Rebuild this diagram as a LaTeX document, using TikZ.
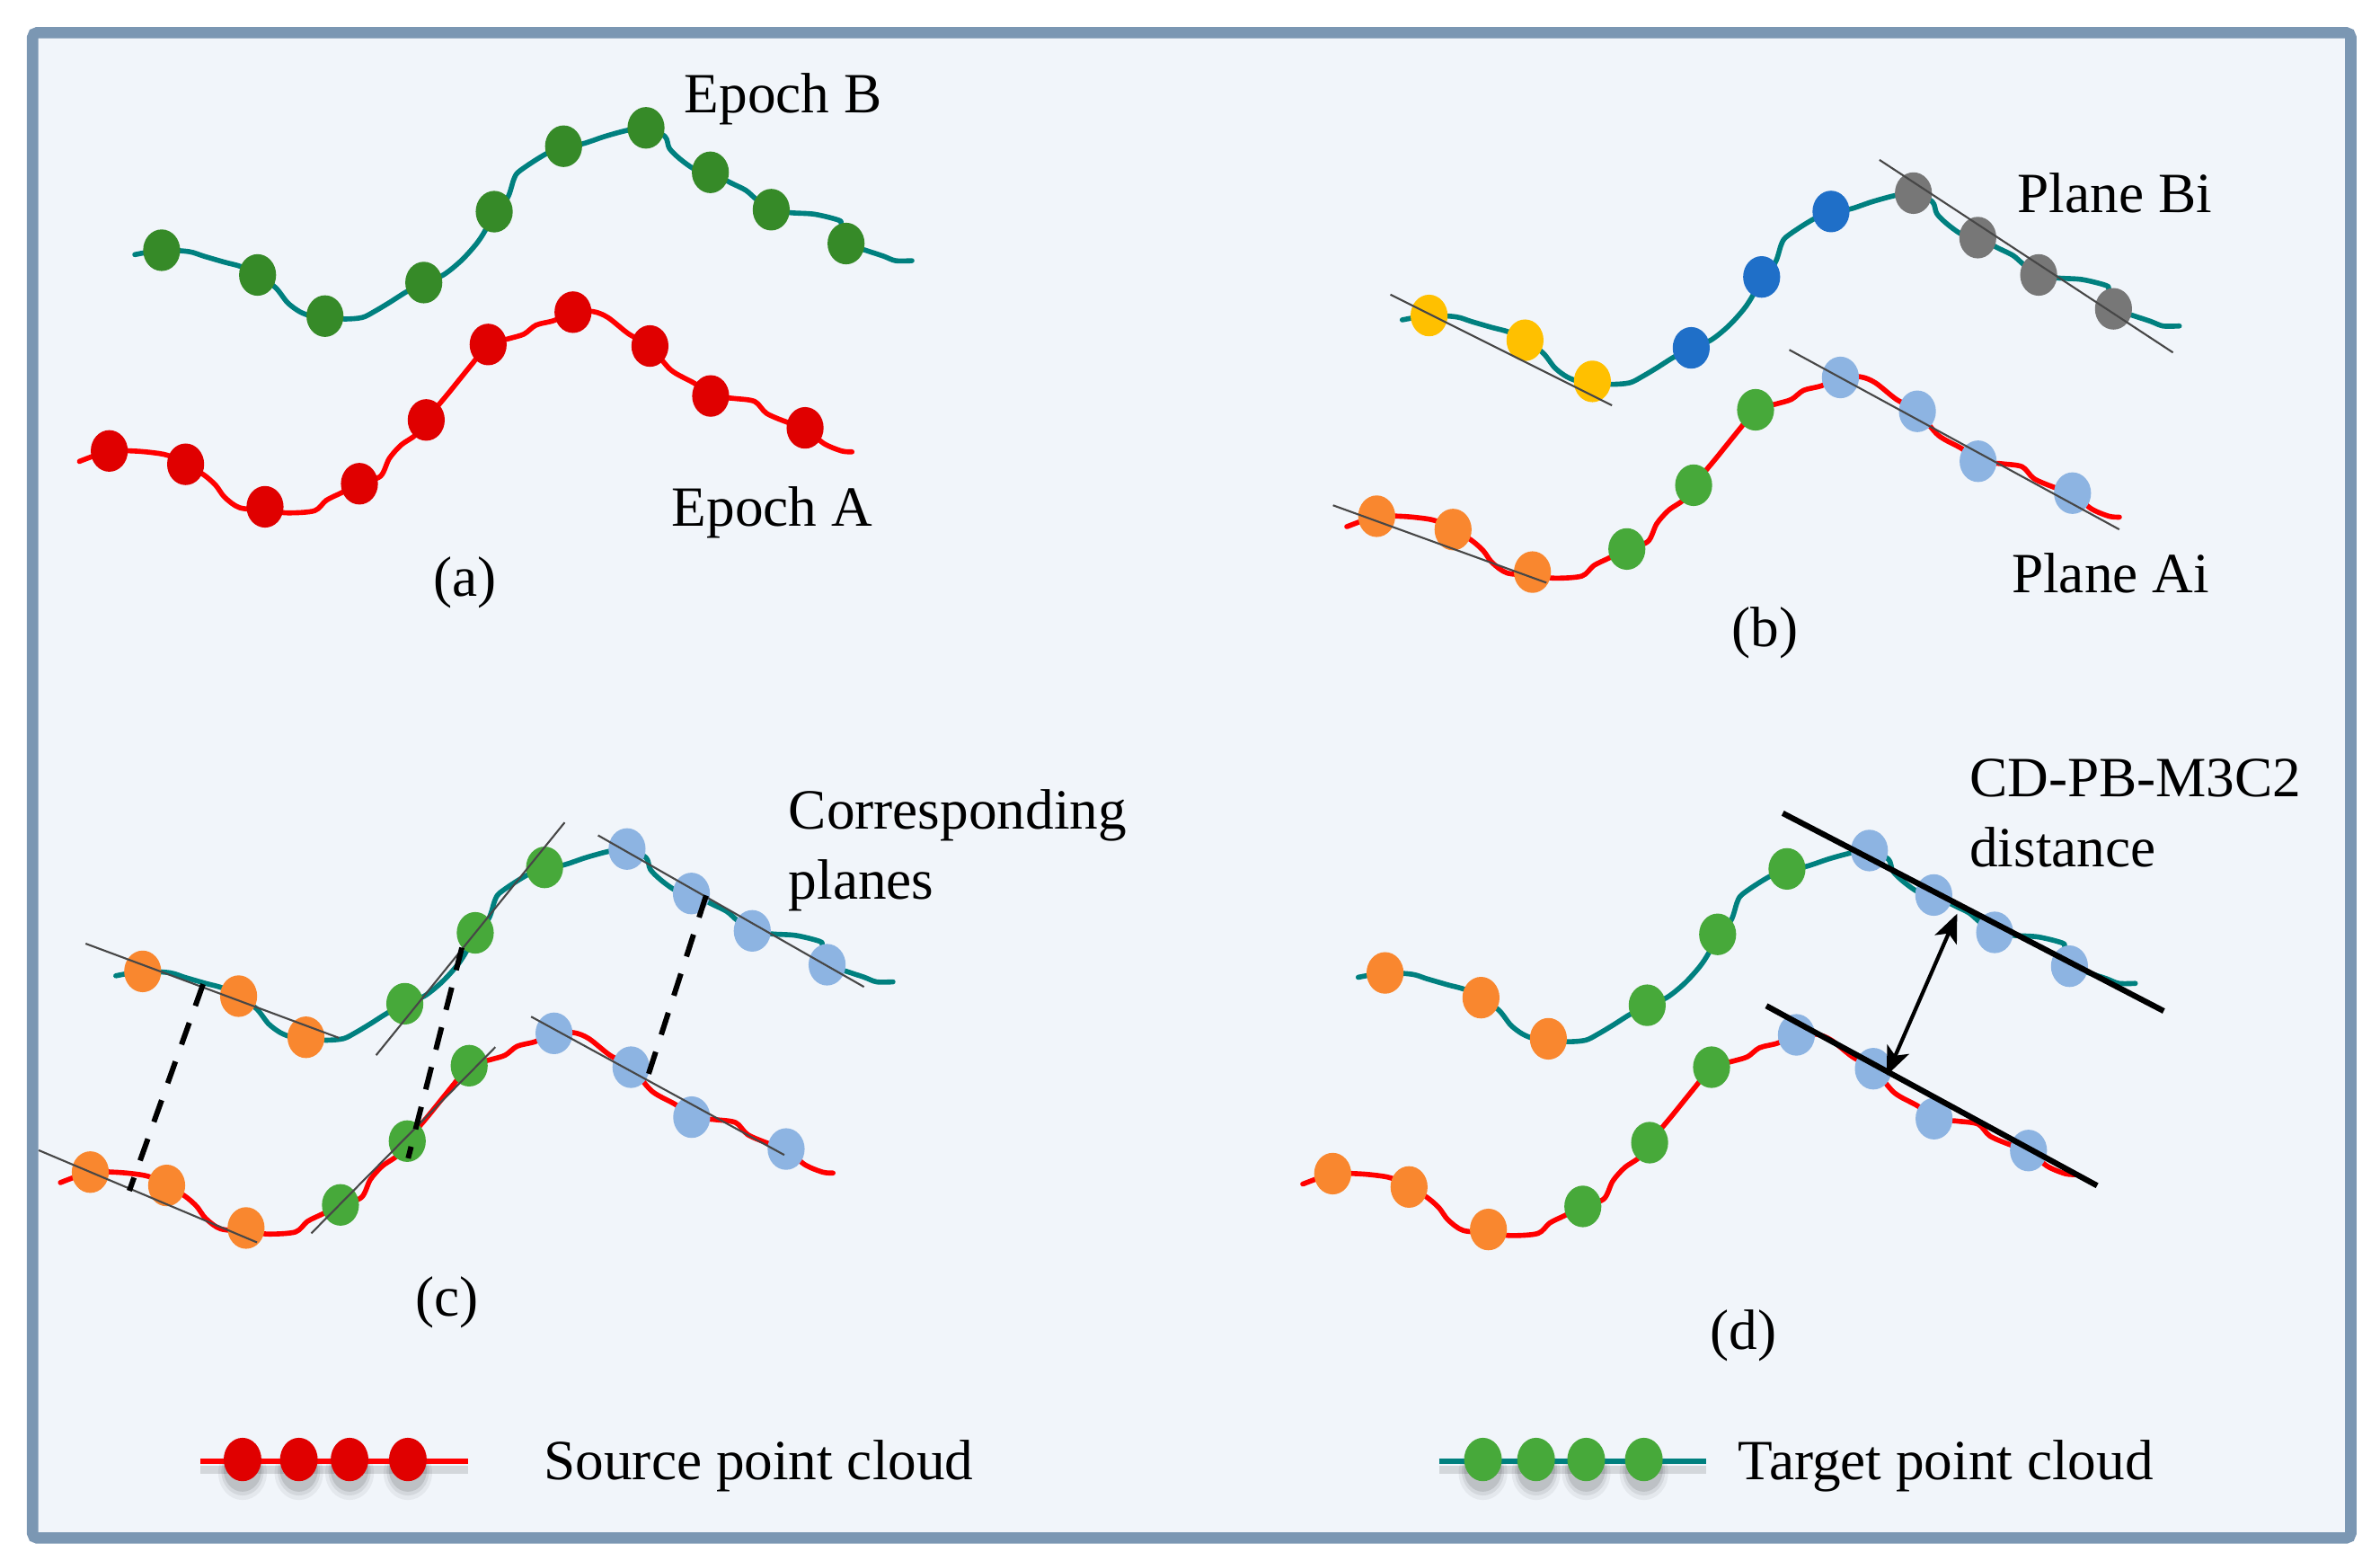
\documentclass[tikz,border=0pt]{standalone}
\usepackage{fontspec}
\setmainfont{Liberation Serif}
\usetikzlibrary{arrows.meta}
\definecolor{framec}{HTML}{7B97B3}
\definecolor{bgc}{HTML}{F1F5FA}
\definecolor{tealc}{HTML}{00807F}
\definecolor{redc}{HTML}{FF0000}
\definecolor{reddot}{HTML}{E00000}
\definecolor{dkgreen}{HTML}{368A28}
\definecolor{ltgreen}{HTML}{47A93A}
\definecolor{orangec}{HTML}{F9872F}
\definecolor{yellowc}{HTML}{FFC000}
\definecolor{bluec}{HTML}{1F6FC8}
\definecolor{grayc}{HTML}{777777}
\definecolor{ltblue}{HTML}{8DB4E2}

\tikzset{
  tealcurve/.style={draw=tealc, line width=1.6pt, line cap=round, line join=round},
  redcurve/.style={draw=redc, line width=1.6pt, line cap=round, line join=round},
  tangent/.style={draw=black!72, line width=0.6pt},
  thickplane/.style={draw=black, line width=1.8pt},
  corr/.style={draw=black, line width=1.7pt, dash pattern=on 7.3pt off 5.7pt},
  lbl/.style={font=\fontsize{18pt}{22pt}\selectfont, inner sep=0pt, anchor=base west},
  captionlbl/.style={font=\fontsize{18pt}{22pt}\selectfont, inner sep=0pt, anchor=base},
  ptdot/.style={x radius=12.2, y radius=13.7},
}

\newcommand{\profile}[7]{%
\begin{scope}[shift={#1}]
\draw[tealcurve] plot[smooth,tension=0.5] coordinates {(88.8,167.7) (106.5,164.8) (124.3,165.7) (134.2,168.7) (148,172.7) (158.8,175.6) (169.7,181.1) (181.5,189.4) (189.4,199.3) (197.3,205.2) (205.2,208.2) (214.1,208.8) (226.9,210.1) (238.7,209.1) (246.6,205.2) (256.5,199.3) (267.4,192.4) (279.2,186.1) (292,181.1) (303.8,171.7) (313.7,160.8) (319.6,151.9) (325.6,139.4) (334.4,130.2) (338.4,118.4) (341.3,113.5) (351.2,106.5) (361.1,100.6) (371.3,96.3) (383.8,94.7) (398.6,89.8) (413.4,85.8) (425.6,84.2) (438,89.8) (441,97.7) (447.9,104.6) (457.8,111.5) (468,113.5) (481.4,120.4) (491.3,125.3) (498.2,131.2) (508.1,138.1) (520.9,140.1) (536.7,141.1) (552.5,145) (554.4,148) (557.4,160.4) (570.2,164.8) (582,168.7) (590,171.7) (600.8,171.7)};
\draw[redcurve] plot[smooth,tension=0.5] coordinates {(52.3,303.9) (72,297) (86.8,297) (98.7,297.9) (110.5,299.9) (122.3,305.8) (134.2,312.7) (142.1,319.6) (148,327.5) (157.9,334.4) (174.6,336) (189.4,337.8) (207.2,336.4) (215,329.5) (224.9,324.6) (236.8,318.6) (250.6,313.7) (256.5,301.9) (264.4,293) (274.3,286.1) (280.8,276.6) (295,259.5) (303.8,248.6) (311.8,238.7) (321.6,226.9) (335.4,223) (345.3,220) (353.2,214.1) (365,211.1) (377.5,205.6) (390.7,205.2) (400.5,209.1) (414.3,220) (428.2,227.9) (442,243.7) (457.7,252.6) (468.2,260.8) (483.4,262.4) (497.2,264.4) (505.1,272.3) (518.9,278.2) (530.4,281.8) (542.6,292) (554.4,297) (561.3,297.6)};
\foreach \x/\y in {106.5/164.8,169.7/181.1,214.1/208.2} {\fill[#2] (\x,\y) ellipse [ptdot];}
\foreach \x/\y in {279.2/186.1,325.6/139.4,371.3/96.3} {\fill[#3] (\x,\y) ellipse [ptdot];}
\foreach \x/\y in {425.6/84.2,468/113.5,508.1/138.1,557.4/160.4} {\fill[#4] (\x,\y) ellipse [ptdot];}
\foreach \x/\y in {72/297,122.3/305.8,174.6/333.8} {\fill[#5] (\x,\y) ellipse [ptdot];}
\foreach \x/\y in {236.8/318.6,280.8/276.6,321.6/226.9} {\fill[#6] (\x,\y) ellipse [ptdot];}
\foreach \x/\y in {377.5/205.6,428.2/227.9,468.2/260.8,530.4/281.8} {\fill[#7] (\x,\y) ellipse [ptdot];}
\end{scope}}

\newcommand{\legendrow}[5]{% #1 line colour, #2 dot colour, #3 x start, #4 x end, #5 dot x list
\foreach \x in {#5} {
  \fill[black, opacity=0.05] (\x,970) ellipse [x radius=16, y radius=18];
  \fill[black, opacity=0.07] (\x,969) ellipse [x radius=14, y radius=16];
  \fill[black, opacity=0.10] (\x,968) ellipse [x radius=12.5, y radius=14.5];
}
\draw[black, opacity=0.12, line width=2.4pt] (#3,968) -- (#4,968);
\draw[#1, line width=1.6pt] (#3,962.5) -- (#4,962.5);
\foreach \x in {#5} {\fill[#2] (\x,961.3) ellipse [x radius=12.4, y radius=14.3];}
}

\begin{document}
\begin{tikzpicture}[x=0.016894cm,y=-0.016894cm]
\useasboundingbox (0,0) rectangle (1568,1028);
\fill[white] (0,0) rectangle (1568,1028);
\draw[framec, line width=3.6pt, fill=bgc, rounded corners=1.5pt] (21.5,21.5) rectangle (1548.7,1013);

% panel (a)
\profile{(0,0)}{dkgreen}{dkgreen}{dkgreen}{reddot}{reddot}{reddot}
\node[lbl] (epochB) at (450.6,74.5) {Epoch B};
\node[lbl] (epochA) at (442.3,346.8) {Epoch A};
\node[captionlbl] (capa) at (306.5,393) {(a)};

% panel (b)
\profile{(835,43)}{yellowc}{bluec}{grayc}{orangec}{ltgreen}{ltblue}
\draw[tangent] (916,194) -- (1062,267);
\draw[tangent] (1238.2,105.3) -- (1431.6,232.2);
\draw[tangent] (878.2,332.8) -- (1018.8,383.8);
\draw[tangent] (1178.8,230.4) -- (1396.2,348.7);
\node[lbl] (planeBi) at (1328.8,140.2) {Plane Bi};
\node[lbl] (planeAi) at (1325,390.4) {Plane Ai};
\node[captionlbl] (capb) at (1162.7,426) {(b)};

% panel (c)
\profile{(-12.5,475)}{orangec}{ltgreen}{ltblue}{orangec}{ltgreen}{ltblue}
\draw[tangent] (56.4,621.5) -- (223.3,683.6);
\draw[tangent] (247.8,695) -- (372,541.7);
\draw[tangent] (394,550.2) -- (569.2,650);
\draw[tangent] (25.5,757.6) -- (169.3,818.3);
\draw[tangent] (205.1,812.3) -- (326.3,689.7);
\draw[tangent] (349.9,669.6) -- (516.7,760.7);
\coordinate (c1a) at (133.8,648.2); \coordinate (c1b) at (85.2,784.3);
\coordinate (c2a) at (304.3,624.2); \coordinate (c2b) at (268.9,762.9);
\coordinate (c3a) at (465.2,589.8); \coordinate (c3b) at (426,711.4);
\draw[corr] (c1a) -- (c1b);
\draw[corr] (c2a) -- (c2b);
\draw[corr] (c3a) -- (c3b);
\node[lbl] (corr1) at (519.2,546.2) {Corresponding};
\node[lbl] (corr2) at (519.2,592) {planes};
\node[captionlbl] (capc) at (294.4,867) {(c)};

% panel (d)
\profile{(806,476)}{orangec}{ltgreen}{ltblue}{orangec}{ltgreen}{ltblue}
\draw[thickplane] (1174.5,535.6) -- (1425.5,665.9);
\draw[thickplane] (1163.7,662.5) -- (1381.6,780.9);
\coordinate (dA) at (1243,708.3);
\coordinate (dB) at (1289.4,601.8);
\draw[black, line width=1.2pt, {Stealth[length=9pt,width=7.5pt,inset=2.2pt]}-{Stealth[length=9pt,width=7.5pt,inset=2.2pt]}] (dA) -- (dB);
\node[lbl] (dist1) at (1297.2,524.6) {CD-PB-M3C2};
\node[lbl] (dist2) at (1297.2,570.8) {distance};
\node[captionlbl] (capd) at (1148.6,889) {(d)};

% legend
\legendrow{redc}{reddot}{132.2}{308.2}{159.8,196.9,230.3,268.7}
\node[lbl] (src) at (358,974.7) {Source point cloud};
\legendrow{tealc}{ltgreen}{948}{1124}{977,1012,1045,1083}
\node[lbl] (tgt) at (1144.8,974.7) {Target point cloud};
\end{tikzpicture}
\end{document}
